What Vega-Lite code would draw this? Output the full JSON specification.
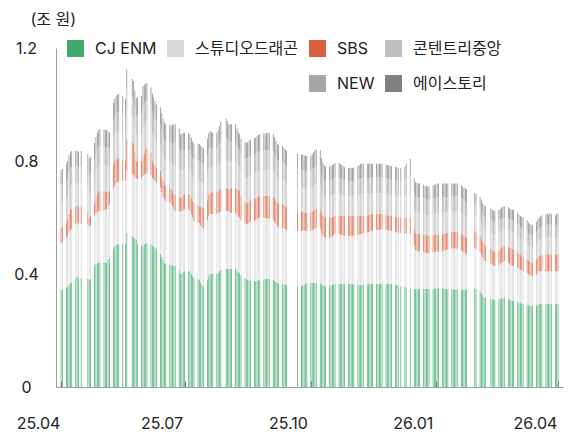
{
"$schema":"https://vega.github.io/schema/vega-lite/v6.json",
"width":507,"height":339,
"autosize":{"type":"none"},
"padding":{"left":56,"top":48,"right":11,"bottom":48},
"background":"white",
"config":{"font":"Inter, Noto Sans CJK KR, sans-serif","view":{"stroke":null}},
"data":{"values":[
{"d":"2025-04-17","a":0.347,"b":0.163,"c":0.053,"e":0.087,"f":0.064,"g":0.056},
{"d":"2025-04-18","a":0.345,"b":0.167,"c":0.054,"e":0.087,"f":0.064,"g":0.055},
{"d":"2025-04-21","a":0.350,"b":0.180,"c":0.050,"e":0.088,"f":0.065,"g":0.057},
{"d":"2025-04-22","a":0.355,"b":0.180,"c":0.055,"e":0.088,"f":0.065,"g":0.057},
{"d":"2025-04-23","a":0.362,"b":0.186,"c":0.064,"e":0.087,"f":0.064,"g":0.057},
{"d":"2025-04-24","a":0.368,"b":0.188,"c":0.072,"e":0.086,"f":0.063,"g":0.055},
{"d":"2025-04-25","a":0.370,"b":0.190,"c":0.072,"e":0.085,"f":0.063,"g":0.055},
{"d":"2025-04-28","a":0.385,"b":0.190,"c":0.063,"e":0.083,"f":0.061,"g":0.054},
{"d":"2025-04-29","a":0.390,"b":0.190,"c":0.060,"e":0.082,"f":0.060,"g":0.053},
{"d":"2025-04-30","a":0.388,"b":0.190,"c":0.063,"e":0.081,"f":0.060,"g":0.051},
{"d":"2025-05-02","a":0.386,"b":0.191,"c":0.063,"e":0.082,"f":0.060,"g":0.053},
{"d":"2025-05-07","a":0.383,"b":0.191,"c":0.048,"e":0.085,"f":0.063,"g":0.055},
{"d":"2025-05-08","a":0.380,"b":0.190,"c":0.030,"e":0.088,"f":0.065,"g":0.057},
{"d":"2025-05-09","a":0.382,"b":0.190,"c":0.033,"e":0.088,"f":0.065,"g":0.057},
{"d":"2025-05-12","a":0.430,"b":0.175,"c":0.042,"e":0.091,"f":0.067,"g":0.059},
{"d":"2025-05-13","a":0.435,"b":0.177,"c":0.056,"e":0.091,"f":0.067,"g":0.059},
{"d":"2025-05-14","a":0.438,"b":0.180,"c":0.066,"e":0.091,"f":0.067,"g":0.058},
{"d":"2025-05-15","a":0.440,"b":0.182,"c":0.070,"e":0.092,"f":0.068,"g":0.058},
{"d":"2025-05-16","a":0.440,"b":0.183,"c":0.071,"e":0.092,"f":0.068,"g":0.059},
{"d":"2025-05-19","a":0.441,"b":0.184,"c":0.068,"e":0.092,"f":0.068,"g":0.059},
{"d":"2025-05-20","a":0.440,"b":0.188,"c":0.062,"e":0.092,"f":0.068,"g":0.060},
{"d":"2025-05-21","a":0.440,"b":0.190,"c":0.060,"e":0.092,"f":0.068,"g":0.060},
{"d":"2025-05-22","a":0.450,"b":0.190,"c":0.052,"e":0.089,"f":0.066,"g":0.058},
{"d":"2025-05-23","a":0.457,"b":0.190,"c":0.047,"e":0.087,"f":0.064,"g":0.055},
{"d":"2025-05-26","a":0.490,"b":0.210,"c":0.090,"e":0.090,"f":0.067,"g":0.058},
{"d":"2025-05-27","a":0.498,"b":0.214,"c":0.088,"e":0.092,"f":0.068,"g":0.060},
{"d":"2025-05-28","a":0.502,"b":0.218,"c":0.085,"e":0.095,"f":0.070,"g":0.060},
{"d":"2025-05-29","a":0.505,"b":0.221,"c":0.082,"e":0.095,"f":0.070,"g":0.062},
{"d":"2025-05-30","a":0.506,"b":0.223,"c":0.081,"e":0.095,"f":0.070,"g":0.062},
{"d":"2025-06-02","a":0.506,"b":0.224,"c":0.075,"e":0.094,"f":0.069,"g":0.060},
{"d":"2025-06-04","a":0.506,"b":0.224,"c":0.070,"e":0.092,"f":0.068,"g":0.060},
{"d":"2025-06-05","a":0.545,"b":0.220,"c":0.112,"e":0.104,"f":0.077,"g":0.067},
{"d":"2025-06-09","a":0.535,"b":0.220,"c":0.111,"e":0.094,"f":0.069,"g":0.061},
{"d":"2025-06-10","a":0.530,"b":0.220,"c":0.110,"e":0.094,"f":0.069,"g":0.060},
{"d":"2025-06-11","a":0.525,"b":0.217,"c":0.088,"e":0.092,"f":0.068,"g":0.060},
{"d":"2025-06-12","a":0.520,"b":0.216,"c":0.064,"e":0.094,"f":0.069,"g":0.060},
{"d":"2025-06-13","a":0.505,"b":0.233,"c":0.060,"e":0.095,"f":0.070,"g":0.062},
{"d":"2025-06-16","a":0.500,"b":0.240,"c":0.060,"e":0.097,"f":0.071,"g":0.062},
{"d":"2025-06-17","a":0.500,"b":0.247,"c":0.060,"e":0.108,"f":0.080,"g":0.070},
{"d":"2025-06-18","a":0.505,"b":0.247,"c":0.073,"e":0.103,"f":0.076,"g":0.066},
{"d":"2025-06-19","a":0.508,"b":0.247,"c":0.085,"e":0.098,"f":0.073,"g":0.063},
{"d":"2025-06-20","a":0.510,"b":0.248,"c":0.088,"e":0.097,"f":0.071,"g":0.062},
{"d":"2025-06-23","a":0.505,"b":0.245,"c":0.080,"e":0.097,"f":0.071,"g":0.062},
{"d":"2025-06-24","a":0.500,"b":0.240,"c":0.060,"e":0.101,"f":0.074,"g":0.065},
{"d":"2025-06-25","a":0.496,"b":0.237,"c":0.057,"e":0.099,"f":0.073,"g":0.063},
{"d":"2025-06-26","a":0.493,"b":0.235,"c":0.054,"e":0.097,"f":0.071,"g":0.062},
{"d":"2025-06-27","a":0.490,"b":0.232,"c":0.053,"e":0.095,"f":0.070,"g":0.060},
{"d":"2025-06-30","a":0.470,"b":0.235,"c":0.060,"e":0.095,"f":0.070,"g":0.060},
{"d":"2025-07-01","a":0.460,"b":0.230,"c":0.055,"e":0.095,"f":0.070,"g":0.060},
{"d":"2025-07-02","a":0.450,"b":0.225,"c":0.053,"e":0.093,"f":0.069,"g":0.060},
{"d":"2025-07-03","a":0.440,"b":0.224,"c":0.052,"e":0.092,"f":0.068,"g":0.060},
{"d":"2025-07-04","a":0.435,"b":0.223,"c":0.052,"e":0.092,"f":0.068,"g":0.060},
{"d":"2025-07-07","a":0.432,"b":0.222,"c":0.051,"e":0.094,"f":0.069,"g":0.060},
{"d":"2025-07-08","a":0.430,"b":0.220,"c":0.050,"e":0.095,"f":0.070,"g":0.060},
{"d":"2025-07-09","a":0.430,"b":0.210,"c":0.050,"e":0.100,"f":0.074,"g":0.064},
{"d":"2025-07-10","a":0.430,"b":0.200,"c":0.052,"e":0.104,"f":0.077,"g":0.067},
{"d":"2025-07-11","a":0.430,"b":0.193,"c":0.053,"e":0.107,"f":0.079,"g":0.068},
{"d":"2025-07-14","a":0.415,"b":0.207,"c":0.052,"e":0.101,"f":0.075,"g":0.065},
{"d":"2025-07-15","a":0.400,"b":0.220,"c":0.050,"e":0.095,"f":0.070,"g":0.060},
{"d":"2025-07-16","a":0.403,"b":0.220,"c":0.051,"e":0.094,"f":0.069,"g":0.060},
{"d":"2025-07-17","a":0.407,"b":0.220,"c":0.053,"e":0.092,"f":0.068,"g":0.060},
{"d":"2025-07-18","a":0.410,"b":0.220,"c":0.053,"e":0.091,"f":0.067,"g":0.059},
{"d":"2025-07-21","a":0.410,"b":0.218,"c":0.054,"e":0.091,"f":0.067,"g":0.058},
{"d":"2025-07-22","a":0.410,"b":0.215,"c":0.055,"e":0.090,"f":0.067,"g":0.058},
{"d":"2025-07-23","a":0.400,"b":0.210,"c":0.058,"e":0.090,"f":0.066,"g":0.058},
{"d":"2025-07-24","a":0.392,"b":0.206,"c":0.060,"e":0.089,"f":0.066,"g":0.057},
{"d":"2025-07-25","a":0.386,"b":0.202,"c":0.062,"e":0.090,"f":0.066,"g":0.058},
{"d":"2025-07-28","a":0.383,"b":0.201,"c":0.061,"e":0.091,"f":0.067,"g":0.059},
{"d":"2025-07-29","a":0.380,"b":0.200,"c":0.060,"e":0.092,"f":0.068,"g":0.060},
{"d":"2025-07-30","a":0.370,"b":0.202,"c":0.065,"e":0.092,"f":0.068,"g":0.058},
{"d":"2025-07-31","a":0.362,"b":0.203,"c":0.070,"e":0.090,"f":0.067,"g":0.058},
{"d":"2025-08-01","a":0.357,"b":0.203,"c":0.074,"e":0.089,"f":0.066,"g":0.057},
{"d":"2025-08-04","a":0.380,"b":0.210,"c":0.075,"e":0.090,"f":0.067,"g":0.058},
{"d":"2025-08-05","a":0.395,"b":0.210,"c":0.075,"e":0.092,"f":0.068,"g":0.058},
{"d":"2025-08-06","a":0.400,"b":0.212,"c":0.075,"e":0.092,"f":0.068,"g":0.059},
{"d":"2025-08-07","a":0.400,"b":0.212,"c":0.076,"e":0.090,"f":0.067,"g":0.058},
{"d":"2025-08-08","a":0.400,"b":0.212,"c":0.078,"e":0.088,"f":0.065,"g":0.057},
{"d":"2025-08-11","a":0.400,"b":0.212,"c":0.078,"e":0.088,"f":0.065,"g":0.057},
{"d":"2025-08-12","a":0.405,"b":0.210,"c":0.078,"e":0.091,"f":0.067,"g":0.059},
{"d":"2025-08-13","a":0.410,"b":0.208,"c":0.080,"e":0.095,"f":0.070,"g":0.062},
{"d":"2025-08-14","a":0.415,"b":0.206,"c":0.081,"e":0.100,"f":0.074,"g":0.064},
{"d":"2025-08-18","a":0.418,"b":0.205,"c":0.082,"e":0.103,"f":0.076,"g":0.066},
{"d":"2025-08-19","a":0.418,"b":0.204,"c":0.081,"e":0.100,"f":0.073,"g":0.064},
{"d":"2025-08-20","a":0.418,"b":0.202,"c":0.080,"e":0.097,"f":0.071,"g":0.062},
{"d":"2025-08-21","a":0.418,"b":0.200,"c":0.084,"e":0.096,"f":0.071,"g":0.061},
{"d":"2025-08-22","a":0.418,"b":0.199,"c":0.087,"e":0.095,"f":0.070,"g":0.061},
{"d":"2025-08-25","a":0.418,"b":0.198,"c":0.089,"e":0.095,"f":0.070,"g":0.060},
{"d":"2025-08-26","a":0.412,"b":0.198,"c":0.090,"e":0.090,"f":0.067,"g":0.058},
{"d":"2025-08-27","a":0.408,"b":0.196,"c":0.093,"e":0.087,"f":0.064,"g":0.055},
{"d":"2025-08-28","a":0.404,"b":0.196,"c":0.094,"e":0.084,"f":0.062,"g":0.055},
{"d":"2025-08-29","a":0.395,"b":0.195,"c":0.085,"e":0.086,"f":0.064,"g":0.055},
{"d":"2025-09-01","a":0.385,"b":0.195,"c":0.075,"e":0.089,"f":0.065,"g":0.057},
{"d":"2025-09-02","a":0.382,"b":0.195,"c":0.073,"e":0.090,"f":0.066,"g":0.058},
{"d":"2025-09-03","a":0.380,"b":0.198,"c":0.074,"e":0.090,"f":0.066,"g":0.058},
{"d":"2025-09-04","a":0.378,"b":0.204,"c":0.075,"e":0.090,"f":0.067,"g":0.058},
{"d":"2025-09-05","a":0.376,"b":0.209,"c":0.077,"e":0.090,"f":0.066,"g":0.058},
{"d":"2025-09-08","a":0.375,"b":0.213,"c":0.077,"e":0.090,"f":0.067,"g":0.058},
{"d":"2025-09-09","a":0.376,"b":0.215,"c":0.077,"e":0.091,"f":0.067,"g":0.058},
{"d":"2025-09-10","a":0.377,"b":0.217,"c":0.077,"e":0.091,"f":0.067,"g":0.059},
{"d":"2025-09-11","a":0.378,"b":0.219,"c":0.077,"e":0.092,"f":0.068,"g":0.058},
{"d":"2025-09-12","a":0.380,"b":0.220,"c":0.076,"e":0.092,"f":0.068,"g":0.059},
{"d":"2025-09-15","a":0.381,"b":0.219,"c":0.076,"e":0.093,"f":0.069,"g":0.059},
{"d":"2025-09-16","a":0.382,"b":0.216,"c":0.078,"e":0.093,"f":0.069,"g":0.060},
{"d":"2025-09-17","a":0.382,"b":0.215,"c":0.079,"e":0.094,"f":0.069,"g":0.061},
{"d":"2025-09-18","a":0.382,"b":0.214,"c":0.080,"e":0.094,"f":0.069,"g":0.061},
{"d":"2025-09-19","a":0.382,"b":0.213,"c":0.081,"e":0.094,"f":0.069,"g":0.061},
{"d":"2025-09-22","a":0.380,"b":0.212,"c":0.082,"e":0.093,"f":0.069,"g":0.060},
{"d":"2025-09-23","a":0.376,"b":0.208,"c":0.084,"e":0.091,"f":0.067,"g":0.059},
{"d":"2025-09-24","a":0.372,"b":0.204,"c":0.084,"e":0.089,"f":0.066,"g":0.057},
{"d":"2025-09-25","a":0.368,"b":0.200,"c":0.084,"e":0.087,"f":0.064,"g":0.057},
{"d":"2025-09-26","a":0.366,"b":0.199,"c":0.084,"e":0.087,"f":0.064,"g":0.056},
{"d":"2025-09-29","a":0.365,"b":0.198,"c":0.085,"e":0.086,"f":0.064,"g":0.055},
{"d":"2025-09-30","a":0.363,"b":0.197,"c":0.085,"e":0.085,"f":0.063,"g":0.055},
{"d":"2025-10-01","a":0.362,"b":0.196,"c":0.082,"e":0.085,"f":0.063,"g":0.054},
{"d":"2025-10-02","a":0.360,"b":0.196,"c":0.079,"e":0.084,"f":0.062,"g":0.055},
{"d":"2025-10-10","a":0.357,"b":0.195,"c":0.071,"e":0.085,"f":0.063,"g":0.054},
{"d":"2025-10-13","a":0.358,"b":0.194,"c":0.070,"e":0.085,"f":0.063,"g":0.054},
{"d":"2025-10-14","a":0.360,"b":0.192,"c":0.068,"e":0.085,"f":0.063,"g":0.054},
{"d":"2025-10-15","a":0.362,"b":0.190,"c":0.066,"e":0.085,"f":0.063,"g":0.054},
{"d":"2025-10-16","a":0.365,"b":0.187,"c":0.065,"e":0.085,"f":0.063,"g":0.054},
{"d":"2025-10-17","a":0.368,"b":0.184,"c":0.064,"e":0.085,"f":0.063,"g":0.054},
{"d":"2025-10-20","a":0.368,"b":0.184,"c":0.064,"e":0.085,"f":0.063,"g":0.054},
{"d":"2025-10-21","a":0.368,"b":0.187,"c":0.065,"e":0.086,"f":0.064,"g":0.055},
{"d":"2025-10-22","a":0.368,"b":0.190,"c":0.066,"e":0.087,"f":0.064,"g":0.057},
{"d":"2025-10-23","a":0.368,"b":0.193,"c":0.067,"e":0.088,"f":0.065,"g":0.057},
{"d":"2025-10-24","a":0.368,"b":0.195,"c":0.067,"e":0.089,"f":0.066,"g":0.057},
{"d":"2025-10-27","a":0.366,"b":0.194,"c":0.068,"e":0.088,"f":0.065,"g":0.057},
{"d":"2025-10-28","a":0.362,"b":0.183,"c":0.070,"e":0.082,"f":0.060,"g":0.053},
{"d":"2025-10-29","a":0.360,"b":0.175,"c":0.070,"e":0.080,"f":0.059,"g":0.051},
{"d":"2025-10-30","a":0.358,"b":0.172,"c":0.072,"e":0.077,"f":0.057,"g":0.049},
{"d":"2025-10-31","a":0.357,"b":0.170,"c":0.073,"e":0.076,"f":0.056,"g":0.048},
{"d":"2025-11-03","a":0.357,"b":0.170,"c":0.073,"e":0.076,"f":0.056,"g":0.048},
{"d":"2025-11-04","a":0.359,"b":0.171,"c":0.071,"e":0.076,"f":0.056,"g":0.050},
{"d":"2025-11-05","a":0.361,"b":0.173,"c":0.068,"e":0.077,"f":0.057,"g":0.050},
{"d":"2025-11-06","a":0.363,"b":0.175,"c":0.065,"e":0.078,"f":0.058,"g":0.050},
{"d":"2025-11-07","a":0.365,"b":0.177,"c":0.063,"e":0.079,"f":0.058,"g":0.051},
{"d":"2025-11-10","a":0.365,"b":0.177,"c":0.063,"e":0.079,"f":0.058,"g":0.051},
{"d":"2025-11-11","a":0.365,"b":0.175,"c":0.065,"e":0.078,"f":0.057,"g":0.050},
{"d":"2025-11-12","a":0.365,"b":0.173,"c":0.067,"e":0.076,"f":0.056,"g":0.049},
{"d":"2025-11-13","a":0.365,"b":0.171,"c":0.069,"e":0.074,"f":0.055,"g":0.048},
{"d":"2025-11-14","a":0.365,"b":0.170,"c":0.070,"e":0.073,"f":0.054,"g":0.046},
{"d":"2025-11-17","a":0.365,"b":0.170,"c":0.070,"e":0.071,"f":0.053,"g":0.046},
{"d":"2025-11-18","a":0.365,"b":0.170,"c":0.070,"e":0.071,"f":0.053,"g":0.046},
{"d":"2025-11-19","a":0.365,"b":0.170,"c":0.070,"e":0.071,"f":0.053,"g":0.046},
{"d":"2025-11-20","a":0.365,"b":0.170,"c":0.070,"e":0.071,"f":0.053,"g":0.046},
{"d":"2025-11-21","a":0.364,"b":0.172,"c":0.069,"e":0.073,"f":0.054,"g":0.046},
{"d":"2025-11-24","a":0.363,"b":0.175,"c":0.067,"e":0.074,"f":0.055,"g":0.048},
{"d":"2025-11-25","a":0.362,"b":0.178,"c":0.065,"e":0.076,"f":0.056,"g":0.049},
{"d":"2025-11-26","a":0.361,"b":0.181,"c":0.063,"e":0.078,"f":0.057,"g":0.050},
{"d":"2025-11-27","a":0.361,"b":0.181,"c":0.063,"e":0.078,"f":0.057,"g":0.050},
{"d":"2025-11-28","a":0.362,"b":0.182,"c":0.062,"e":0.077,"f":0.057,"g":0.050},
{"d":"2025-12-01","a":0.363,"b":0.183,"c":0.062,"e":0.076,"f":0.056,"g":0.050},
{"d":"2025-12-02","a":0.364,"b":0.184,"c":0.061,"e":0.076,"f":0.056,"g":0.049},
{"d":"2025-12-03","a":0.365,"b":0.185,"c":0.060,"e":0.076,"f":0.056,"g":0.048},
{"d":"2025-12-04","a":0.365,"b":0.187,"c":0.060,"e":0.075,"f":0.055,"g":0.048},
{"d":"2025-12-05","a":0.365,"b":0.188,"c":0.059,"e":0.075,"f":0.055,"g":0.048},
{"d":"2025-12-08","a":0.365,"b":0.190,"c":0.057,"e":0.075,"f":0.055,"g":0.048},
{"d":"2025-12-09","a":0.365,"b":0.191,"c":0.056,"e":0.075,"f":0.055,"g":0.048},
{"d":"2025-12-10","a":0.365,"b":0.192,"c":0.055,"e":0.075,"f":0.055,"g":0.048},
{"d":"2025-12-11","a":0.365,"b":0.193,"c":0.054,"e":0.075,"f":0.055,"g":0.048},
{"d":"2025-12-12","a":0.365,"b":0.194,"c":0.053,"e":0.075,"f":0.055,"g":0.048},
{"d":"2025-12-15","a":0.365,"b":0.192,"c":0.053,"e":0.075,"f":0.055,"g":0.048},
{"d":"2025-12-16","a":0.365,"b":0.190,"c":0.053,"e":0.075,"f":0.055,"g":0.048},
{"d":"2025-12-17","a":0.365,"b":0.189,"c":0.053,"e":0.074,"f":0.055,"g":0.048},
{"d":"2025-12-18","a":0.365,"b":0.188,"c":0.053,"e":0.074,"f":0.055,"g":0.048},
{"d":"2025-12-19","a":0.365,"b":0.187,"c":0.053,"e":0.074,"f":0.055,"g":0.048},
{"d":"2025-12-22","a":0.363,"b":0.187,"c":0.054,"e":0.074,"f":0.055,"g":0.047},
{"d":"2025-12-23","a":0.361,"b":0.187,"c":0.054,"e":0.074,"f":0.055,"g":0.047},
{"d":"2025-12-24","a":0.359,"b":0.187,"c":0.055,"e":0.074,"f":0.054,"g":0.047},
{"d":"2025-12-26","a":0.357,"b":0.188,"c":0.055,"e":0.074,"f":0.054,"g":0.047},
{"d":"2025-12-29","a":0.355,"b":0.189,"c":0.056,"e":0.076,"f":0.056,"g":0.048},
{"d":"2025-12-30","a":0.352,"b":0.191,"c":0.057,"e":0.080,"f":0.059,"g":0.051},
{"d":"2026-01-02","a":0.350,"b":0.192,"c":0.058,"e":0.087,"f":0.064,"g":0.056},
{"d":"2026-01-05","a":0.348,"b":0.152,"c":0.060,"e":0.076,"f":0.056,"g":0.048},
{"d":"2026-01-06","a":0.347,"b":0.138,"c":0.060,"e":0.076,"f":0.056,"g":0.048},
{"d":"2026-01-07","a":0.347,"b":0.135,"c":0.061,"e":0.075,"f":0.055,"g":0.049},
{"d":"2026-01-08","a":0.347,"b":0.133,"c":0.062,"e":0.075,"f":0.055,"g":0.048},
{"d":"2026-01-09","a":0.347,"b":0.133,"c":0.062,"e":0.075,"f":0.055,"g":0.048},
{"d":"2026-01-12","a":0.347,"b":0.131,"c":0.062,"e":0.074,"f":0.055,"g":0.047},
{"d":"2026-01-13","a":0.347,"b":0.129,"c":0.062,"e":0.074,"f":0.054,"g":0.047},
{"d":"2026-01-14","a":0.347,"b":0.128,"c":0.061,"e":0.074,"f":0.054,"g":0.047},
{"d":"2026-01-15","a":0.347,"b":0.127,"c":0.061,"e":0.074,"f":0.054,"g":0.047},
{"d":"2026-01-16","a":0.347,"b":0.127,"c":0.061,"e":0.074,"f":0.054,"g":0.047},
{"d":"2026-01-19","a":0.348,"b":0.128,"c":0.061,"e":0.074,"f":0.055,"g":0.047},
{"d":"2026-01-20","a":0.349,"b":0.129,"c":0.060,"e":0.075,"f":0.055,"g":0.048},
{"d":"2026-01-21","a":0.349,"b":0.130,"c":0.060,"e":0.075,"f":0.055,"g":0.049},
{"d":"2026-01-22","a":0.350,"b":0.130,"c":0.060,"e":0.076,"f":0.056,"g":0.048},
{"d":"2026-01-23","a":0.350,"b":0.130,"c":0.060,"e":0.076,"f":0.056,"g":0.048},
{"d":"2026-01-26","a":0.350,"b":0.130,"c":0.060,"e":0.076,"f":0.056,"g":0.048},
{"d":"2026-01-27","a":0.349,"b":0.133,"c":0.060,"e":0.075,"f":0.055,"g":0.048},
{"d":"2026-01-28","a":0.348,"b":0.136,"c":0.060,"e":0.074,"f":0.055,"g":0.047},
{"d":"2026-01-29","a":0.347,"b":0.139,"c":0.060,"e":0.073,"f":0.054,"g":0.047},
{"d":"2026-01-30","a":0.346,"b":0.142,"c":0.060,"e":0.072,"f":0.053,"g":0.047},
{"d":"2026-02-02","a":0.346,"b":0.143,"c":0.060,"e":0.072,"f":0.053,"g":0.046},
{"d":"2026-02-03","a":0.345,"b":0.145,"c":0.060,"e":0.071,"f":0.053,"g":0.046},
{"d":"2026-02-04","a":0.345,"b":0.145,"c":0.060,"e":0.071,"f":0.053,"g":0.046},
{"d":"2026-02-05","a":0.345,"b":0.145,"c":0.060,"e":0.071,"f":0.053,"g":0.046},
{"d":"2026-02-06","a":0.345,"b":0.145,"c":0.060,"e":0.071,"f":0.053,"g":0.046},
{"d":"2026-02-09","a":0.345,"b":0.140,"c":0.060,"e":0.071,"f":0.053,"g":0.046},
{"d":"2026-02-10","a":0.345,"b":0.135,"c":0.060,"e":0.071,"f":0.053,"g":0.046},
{"d":"2026-02-11","a":0.345,"b":0.131,"c":0.060,"e":0.071,"f":0.053,"g":0.046},
{"d":"2026-02-12","a":0.345,"b":0.128,"c":0.060,"e":0.071,"f":0.053,"g":0.046},
{"d":"2026-02-13","a":0.345,"b":0.125,"c":0.060,"e":0.071,"f":0.053,"g":0.046},
{"d":"2026-02-19","a":0.350,"b":0.142,"c":0.060,"e":0.057,"f":0.042,"g":0.036},
{"d":"2026-02-20","a":0.348,"b":0.140,"c":0.060,"e":0.057,"f":0.042,"g":0.037},
{"d":"2026-02-23","a":0.340,"b":0.138,"c":0.057,"e":0.058,"f":0.042,"g":0.037},
{"d":"2026-02-24","a":0.332,"b":0.136,"c":0.055,"e":0.058,"f":0.043,"g":0.037},
{"d":"2026-02-25","a":0.325,"b":0.133,"c":0.054,"e":0.058,"f":0.043,"g":0.038},
{"d":"2026-02-26","a":0.318,"b":0.132,"c":0.054,"e":0.059,"f":0.043,"g":0.038},
{"d":"2026-02-27","a":0.315,"b":0.131,"c":0.054,"e":0.059,"f":0.043,"g":0.038},
{"d":"2026-03-03","a":0.312,"b":0.126,"c":0.052,"e":0.060,"f":0.044,"g":0.038},
{"d":"2026-03-04","a":0.311,"b":0.123,"c":0.052,"e":0.060,"f":0.044,"g":0.038},
{"d":"2026-03-05","a":0.310,"b":0.120,"c":0.052,"e":0.060,"f":0.044,"g":0.039},
{"d":"2026-03-06","a":0.310,"b":0.118,"c":0.052,"e":0.060,"f":0.044,"g":0.039},
{"d":"2026-03-09","a":0.311,"b":0.121,"c":0.052,"e":0.060,"f":0.044,"g":0.039},
{"d":"2026-03-10","a":0.312,"b":0.124,"c":0.052,"e":0.060,"f":0.044,"g":0.039},
{"d":"2026-03-11","a":0.313,"b":0.127,"c":0.052,"e":0.060,"f":0.044,"g":0.039},
{"d":"2026-03-12","a":0.314,"b":0.129,"c":0.053,"e":0.060,"f":0.044,"g":0.038},
{"d":"2026-03-13","a":0.315,"b":0.131,"c":0.054,"e":0.059,"f":0.043,"g":0.038},
{"d":"2026-03-16","a":0.312,"b":0.128,"c":0.056,"e":0.059,"f":0.043,"g":0.038},
{"d":"2026-03-17","a":0.309,"b":0.127,"c":0.056,"e":0.059,"f":0.043,"g":0.038},
{"d":"2026-03-18","a":0.307,"b":0.125,"c":0.058,"e":0.059,"f":0.043,"g":0.038},
{"d":"2026-03-19","a":0.305,"b":0.125,"c":0.059,"e":0.058,"f":0.043,"g":0.038},
{"d":"2026-03-20","a":0.304,"b":0.124,"c":0.060,"e":0.058,"f":0.043,"g":0.038},
{"d":"2026-03-23","a":0.301,"b":0.121,"c":0.058,"e":0.058,"f":0.043,"g":0.037},
{"d":"2026-03-24","a":0.299,"b":0.119,"c":0.055,"e":0.058,"f":0.043,"g":0.037},
{"d":"2026-03-25","a":0.297,"b":0.118,"c":0.052,"e":0.058,"f":0.043,"g":0.038},
{"d":"2026-03-26","a":0.295,"b":0.117,"c":0.051,"e":0.059,"f":0.043,"g":0.038},
{"d":"2026-03-27","a":0.294,"b":0.116,"c":0.050,"e":0.059,"f":0.043,"g":0.038},
{"d":"2026-03-30","a":0.291,"b":0.112,"c":0.049,"e":0.058,"f":0.043,"g":0.037},
{"d":"2026-03-31","a":0.289,"b":0.109,"c":0.048,"e":0.057,"f":0.042,"g":0.037},
{"d":"2026-04-01","a":0.288,"b":0.107,"c":0.048,"e":0.056,"f":0.042,"g":0.036},
{"d":"2026-04-02","a":0.287,"b":0.107,"c":0.047,"e":0.056,"f":0.042,"g":0.036},
{"d":"2026-04-03","a":0.287,"b":0.106,"c":0.047,"e":0.056,"f":0.041,"g":0.036},
{"d":"2026-04-06","a":0.289,"b":0.109,"c":0.052,"e":0.057,"f":0.042,"g":0.036},
{"d":"2026-04-07","a":0.292,"b":0.113,"c":0.053,"e":0.057,"f":0.042,"g":0.037},
{"d":"2026-04-08","a":0.294,"b":0.116,"c":0.054,"e":0.057,"f":0.042,"g":0.037},
{"d":"2026-04-09","a":0.294,"b":0.116,"c":0.056,"e":0.058,"f":0.043,"g":0.037},
{"d":"2026-04-10","a":0.294,"b":0.116,"c":0.058,"e":0.059,"f":0.043,"g":0.038},
{"d":"2026-04-13","a":0.294,"b":0.116,"c":0.060,"e":0.060,"f":0.044,"g":0.038},
{"d":"2026-04-14","a":0.294,"b":0.116,"c":0.060,"e":0.061,"f":0.045,"g":0.039},
{"d":"2026-04-15","a":0.294,"b":0.116,"c":0.060,"e":0.059,"f":0.043,"g":0.038},
{"d":"2026-04-16","a":0.294,"b":0.116,"c":0.060,"e":0.062,"f":0.046,"g":0.040},
{"d":"2026-04-17","a":0.294,"b":0.116,"c":0.060,"e":0.060,"f":0.044,"g":0.038},
{"d":"2026-04-20","a":0.294,"b":0.116,"c":0.060,"e":0.058,"f":0.042,"g":0.036},
{"d":"2026-04-21","a":0.294,"b":0.116,"c":0.060,"e":0.061,"f":0.045,"g":0.038},
{"d":"2026-04-22","a":0.294,"b":0.116,"c":0.060,"e":0.060,"f":0.044,"g":0.038}
]},
"transform":[{"fold":["a","b","c","e","f","g"],"as":["k","v"]}],
"mark":{"type":"bar","size":0.7},
"encoding":{
"x":{"field":"d","type":"temporal",
"scale":{"type":"utc","domain":[{"year":2025,"month":4,"date":17,"utc":true},{"year":2026,"month":4,"date":22,"utc":true}]},
"axis":{"title":null,"grid":false,
"values":[{"year":2025,"month":4,"date":17,"utc":true},{"year":2025,"month":7,"date":18,"utc":true},{"year":2025,"month":10,"date":20,"utc":true},{"year":2026,"month":1,"date":21,"utc":true},{"year":2026,"month":4,"date":22,"utc":true}],
"labelExpr":"utcFormat(datum.value, '%y.%m')","labelFlush":false,"labelOverlap":false,"labelAlign":"center",
"labelFontSize":16,"labelColor":"#222","labelOffset":-23,"labelPadding":34,
"domainColor":"#9e9e9e","domainWidth":1,"tickColor":"#777","tickSize":-6,"tickWidth":1}},
"y":{"field":"v","type":"quantitative","stack":"zero","scale":{"domain":[0,1.2]},
"axis":{"values":[0,0.4,0.8,1.2],"format":"~g","grid":false,"ticks":false,
"labelAlign":"center","labelPadding":30,"labelFontSize":16,"labelColor":"#222",
"domainColor":"#9e9e9e","domainWidth":1,
"title":"(조 원)","titleAngle":0,"titleAlign":"left","titleBaseline":"middle","titleX":-26,"titleY":-29,"titleFontSize":16,"titleFontWeight":"normal","titleColor":"#222"}},
"color":{"field":"k","type":"nominal",
"scale":{"domain":["a","b","c","e","x","y","f","g"],"range":["#3faa6c","#d9d9d9","#d9603f","#bfbfbf","rgba(0,0,0,0)","rgba(0,0,0,0)","#a6a6a6","#808080"]},
"legend":{"orient":"none","legendX":11,"legendY":-8,"columns":4,"direction":"horizontal","padding":0,"title":null,
"symbolType":"square","symbolSize":289,"symbolStrokeWidth":0,"symbolOpacity":1,
"labelFontSize":16,"labelColor":"#222","labelOffset":11,"columnPadding":10,"rowPadding":18,
"labelExpr":"datum.label=='a'?'CJ ENM':datum.label=='b'?'스튜디오드래곤':datum.label=='c'?'SBS':datum.label=='e'?'콘텐트리중앙':datum.label=='f'?'NEW':datum.label=='g'?'에이스토리':''"}},
"order":{"field":"k","sort":"ascending"}
}
}
